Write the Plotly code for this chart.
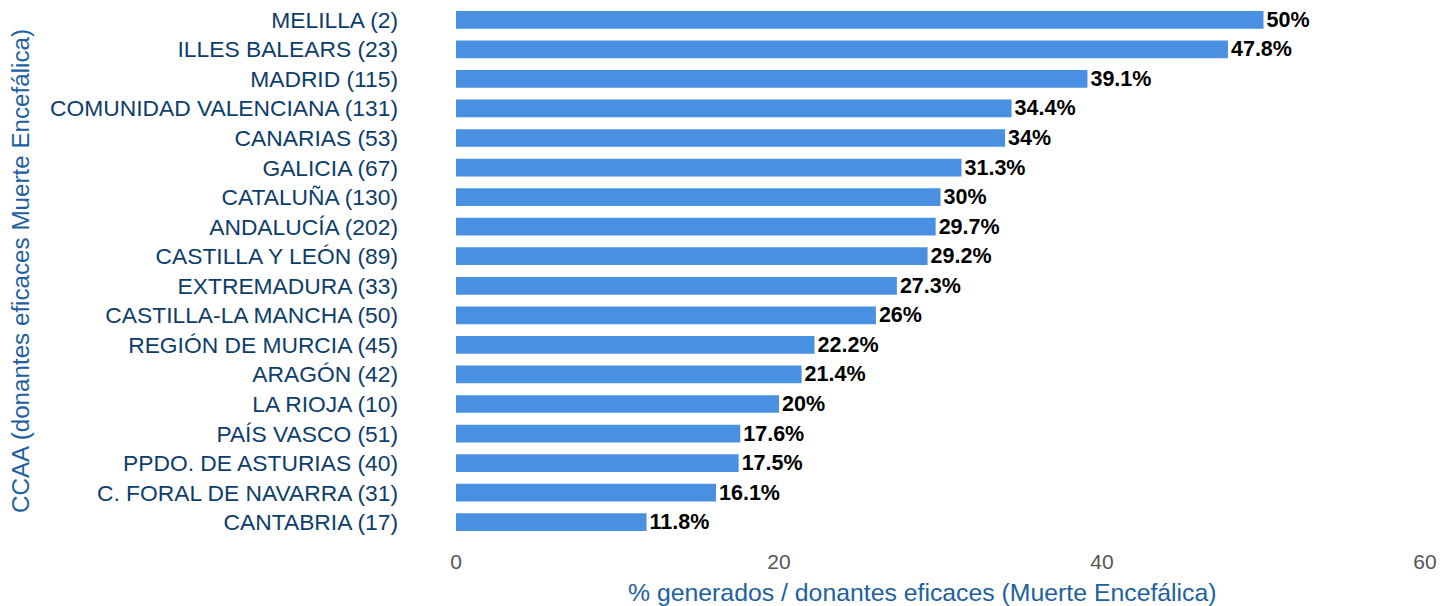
import plotly.graph_objects as go

regions = ["MELILLA (2)", "ILLES BALEARS (23)", "MADRID (115)", "COMUNIDAD VALENCIANA (131)",
           "CANARIAS (53)", "GALICIA (67)", "CATALUÑA (130)", "ANDALUCÍA (202)",
           "CASTILLA Y LEÓN (89)", "EXTREMADURA (33)", "CASTILLA-LA MANCHA (50)",
           "REGIÓN DE MURCIA (45)", "ARAGÓN (42)", "LA RIOJA (10)", "PAÍS VASCO (51)",
           "PPDO. DE ASTURIAS (40)", "C. FORAL DE NAVARRA (31)", "CANTABRIA (17)"]
values = [50, 47.8, 39.1, 34.4, 34, 31.3, 30, 29.7, 29.2, 27.3, 26, 22.2, 21.4, 20,
          17.6, 17.5, 16.1, 11.8]
labels = [f"{v:g}%" for v in values]
x_ticks = [0, 20, 40, 60]

fig = go.Figure(go.Bar(
    x=values, y=regions, orientation="h",
    marker=dict(color="#4a90e2", line=dict(width=0)),
    text=labels, textposition="outside", cliponaxis=False, constraintext="none",
    textfont=dict(family="Liberation Sans, Arial", size=21.5, color="#000000", weight="bold"),
))

fig.update_layout(
    width=1455, height=606,
    margin=dict(l=456, r=30, t=5, b=69, autoexpand=False),
    paper_bgcolor="white", plot_bgcolor="white",
    font=dict(family="Liberation Sans, Arial", size=23),
    bargap=0.4,
    showlegend=False,
    xaxis=dict(range=[0, 60], tickvals=x_ticks, showgrid=False, zeroline=False,
               showline=False, tickfont=dict(color="#555555", size=21), automargin=False,
               ticklabelstandoff=10),
    yaxis=dict(autorange="reversed", showgrid=False, zeroline=False, showline=False,
               tickfont=dict(color="#0d3d6b", size=22.8), ticklabelstandoff=57,
               automargin=False),
    annotations=[
        dict(text="% generados / donantes eficaces (Muerte Encefálica)", xref="paper", yref="paper",
             x=0.481, y=-0.105, xanchor="center", yanchor="middle", showarrow=False,
             font=dict(color="#2160a0", size=24.8)),
        dict(text="CCAA (donantes eficaces Muerte Encefálica)", xref="paper", yref="paper",
             x=-0.45, y=0.5, xanchor="center", yanchor="middle", textangle=-90, showarrow=False,
             font=dict(color="#2160a0", size=24.2)),
    ],
)

fig.write_html("out.html", config={"displayModeBar": False},
               post_script="document.body.style.margin='0';")
